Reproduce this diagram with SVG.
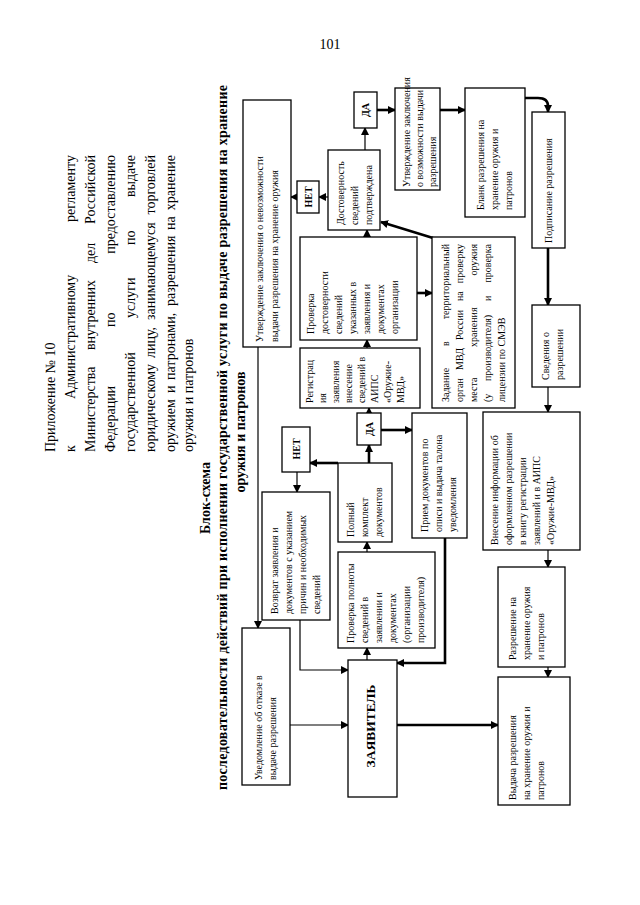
<svg xmlns="http://www.w3.org/2000/svg" width="640" height="905" viewBox="0 0 640 905">
<defs>
<style>
.bg{fill:#fff}
.box{fill:#fff;stroke:#000;stroke-width:1.3}
.t{font-family:"Liberation Serif","Times New Roman",serif;font-size:10px;fill:#000}
.b{font-family:"Liberation Serif","Times New Roman",serif;font-weight:bold;fill:#000}
.h{font-family:"Liberation Serif","Times New Roman",serif;font-size:14px;fill:#000}
.e{text-anchor:end}
.ln{fill:none;stroke:#000;stroke-width:1.2}
.tk{fill:none;stroke:#000;stroke-width:2.6}
</style>
<marker id="a" markerWidth="8" markerHeight="8" refX="7" refY="4" orient="auto" markerUnits="userSpaceOnUse"><path d="M0,0 L8,4 L0,8 z" fill="#000"/></marker>
</defs>
<rect class="bg" x="0" y="0" width="640" height="905"/>
<text class="h" x="330" y="49" text-anchor="middle" font-size="12">101</text>

<g id="header">
<text class="h" transform="translate(55,452) rotate(-90)">Приложение № 10</text>
<text class="h" transform="translate(75,452) rotate(-90)">к</text>
<text class="h" transform="translate(75,399) rotate(-90)">Административному</text>
<text class="h e" transform="translate(75,155) rotate(-90)">регламенту</text>
<text class="h" transform="translate(95,452) rotate(-90)">Министерства</text>
<text class="h" transform="translate(95,350) rotate(-90)">внутренних</text>
<text class="h" transform="translate(95,263) rotate(-90)">дел</text>
<text class="h e" transform="translate(95,155) rotate(-90)">Российской</text>
<text class="h" transform="translate(115,452) rotate(-90)">Федерации</text>
<text class="h" transform="translate(115,327) rotate(-90)">по</text>
<text class="h e" transform="translate(115,155) rotate(-90)">предоставлению</text>
<text class="h" transform="translate(135,452) rotate(-90)">государственной</text>
<text class="h" transform="translate(135,318) rotate(-90)">услуги</text>
<text class="h" transform="translate(135,245) rotate(-90)">по</text>
<text class="h e" transform="translate(135,155) rotate(-90)">выдаче</text>
<text class="h" transform="translate(155,452) rotate(-90)">юридическому</text>
<text class="h" transform="translate(155,358) rotate(-90)">лицу,</text>
<text class="h" transform="translate(155,320) rotate(-90)">занимающемуся</text>
<text class="h e" transform="translate(155,155) rotate(-90)">торговлей</text>
<text class="h" transform="translate(175,452) rotate(-90)">оружием</text>
<text class="h" transform="translate(175,393) rotate(-90)">и</text>
<text class="h" transform="translate(175,380) rotate(-90)">патронами,</text>
<text class="h" transform="translate(175,306) rotate(-90)">разрешения</text>
<text class="h" transform="translate(175,230) rotate(-90)">на</text>
<text class="h e" transform="translate(175,155) rotate(-90)">хранение</text>
<text class="h" transform="translate(193,452) rotate(-90)">оружия и патронов</text>
</g>

<g id="title">
<text class="b" font-size="14" text-anchor="middle" transform="translate(210,498) rotate(-90)">Блок-схема</text>
<text class="b" font-size="14" transform="translate(227,790) rotate(-90)" textLength="705" lengthAdjust="spacing">последовательности действий при исполнении государственной услуги по выдаче разрешения на хранение</text>
<text class="b" font-size="14" text-anchor="middle" transform="translate(245,432) rotate(-90)">оружия и патронов</text>
</g>

<g id="connectors">
<path class="ln" d="M258,347 V628" marker-end="url(#a)"/>
<path class="ln" d="M328,197 H319" marker-end="url(#a)"/>
<path class="ln" d="M297,197 H291" marker-end="url(#a)"/>
<path class="ln" d="M365,150 V128" marker-end="url(#a)"/>
<path class="tk" d="M377,110 H395" marker-end="url(#a)"/>
<path class="tk" d="M440,110 H465" marker-end="url(#a)"/>
<path class="tk" d="M525,98 H538 Q548,98 548,106 V112" marker-end="url(#a)"/>
<path class="tk" d="M548,248 V305" marker-end="url(#a)"/>
<path class="ln" d="M548,387 V412" marker-end="url(#a)"/>
<path class="ln" d="M548,550 V567" marker-end="url(#a)"/>
<path class="ln" d="M548,667 V677" marker-end="url(#a)"/>
<path class="tk" d="M397,725 H498" marker-end="url(#a)"/>
<path class="ln" d="M290,725 H348" marker-end="url(#a)"/>
<path class="ln" d="M300,620 V670 H348" marker-end="url(#a)"/>
<path class="ln" d="M297,472 V492" marker-end="url(#a)"/>
<path class="tk" d="M338,463 H310" marker-end="url(#a)"/>
<path class="tk" d="M369,463 V445" marker-end="url(#a)"/>
<path class="tk" d="M381,430 H412" marker-end="url(#a)"/>
<path class="ln" d="M369,413 V408" marker-end="url(#a)"/>
<path class="ln" d="M367,348 V340" marker-end="url(#a)"/>
<path class="ln" d="M367,237 V230" marker-end="url(#a)"/>
<path class="tk" d="M417,293 H432" marker-end="url(#a)"/>
<path class="tk" d="M433,238 L381,222" marker-end="url(#a)"/>
<path class="tk" d="M445,538 V663 H397" marker-end="url(#a)"/>
<path class="ln" d="M367,660 V648" marker-end="url(#a)"/>
<path class="ln" d="M367,552 V542" marker-end="url(#a)"/>
</g>

<g id="n_b1">
<rect class="box" x="243" y="100" width="48" height="247"/>
<text class="t" font-size="12.5" transform="translate(263,342) rotate(-90)">Утверждение заключения о невозможности</text>
<text class="t" font-size="12.5" transform="translate(278,342) rotate(-90)">выдачи разрешения на хранение оружия</text>
</g>
<g id="n_net1">
<rect class="box" x="297" y="181" width="22" height="32"/>
<text class="b" font-size="10" text-anchor="middle" transform="translate(312,197) rotate(-90)">НЕТ</text>
</g>
<g id="n_dost">
<rect class="box" x="328" y="150" width="52" height="80"/>
<text class="t" transform="translate(344,225) rotate(-90)">Достоверность</text>
<text class="t" transform="translate(358,225) rotate(-90)">сведений</text>
<text class="t" transform="translate(372,225) rotate(-90)">подтверждена</text>
</g>
<g id="n_da1">
<rect class="box" x="354" y="92" width="23" height="36"/>
<text class="b" font-size="10" text-anchor="middle" transform="translate(369,110) rotate(-90)">ДА</text>
</g>
<g id="n_vozm">
<rect class="box" x="395" y="88" width="45" height="102"/>
<text class="t" font-size="8.7" transform="translate(410,187) rotate(-90)">Утверждение заключения</text>
<text class="t" font-size="8.7" transform="translate(423,187) rotate(-90)">о возможности выдачи</text>
<text class="t" font-size="8.7" transform="translate(436,187) rotate(-90)">разрешения</text>
</g>
<g id="n_blank">
<rect class="box" x="465" y="88" width="60" height="129"/>
<text class="t" transform="translate(484,210) rotate(-90)">Бланк разрешения на</text>
<text class="t" transform="translate(498,210) rotate(-90)">хранение оружия и</text>
<text class="t" transform="translate(512,210) rotate(-90)">патронов</text>
</g>
<g id="n_podp">
<rect class="box" x="532" y="112" width="33" height="136"/>
<text class="t" font-size="10.8" transform="translate(552,243) rotate(-90)">Подписание разрешения</text>
</g>
<g id="n_sved">
<rect class="box" x="532" y="305" width="48" height="82"/>
<text class="t" transform="translate(549,380) rotate(-90)">Сведения о</text>
<text class="t" transform="translate(563,380) rotate(-90)">разрешении</text>
</g>
<g id="n_vnes">
<rect class="box" x="483" y="412" width="97" height="138"/>
<text class="t" transform="translate(498,545) rotate(-90)">Внесение информации об</text>
<text class="t" transform="translate(512,545) rotate(-90)">оформленном разрешении</text>
<text class="t" transform="translate(526,545) rotate(-90)">в книгу регистрации</text>
<text class="t" transform="translate(540,545) rotate(-90)">заявлений и в АИПС</text>
<text class="t" transform="translate(554,545) rotate(-90)">«Оружие-МВД»</text>
</g>
<g id="n_razr">
<rect class="box" x="498" y="567" width="67" height="100"/>
<text class="t" transform="translate(516,660) rotate(-90)">Разрешение на</text>
<text class="t" transform="translate(530,660) rotate(-90)">хранение оружия</text>
<text class="t" transform="translate(544,660) rotate(-90)">и патронов</text>
</g>
<g id="n_vyd">
<rect class="box" x="498" y="677" width="72" height="128"/>
<text class="t" transform="translate(516,800) rotate(-90)">Выдача разрешения</text>
<text class="t" transform="translate(530,800) rotate(-90)">на хранение оружия и</text>
<text class="t" transform="translate(544,800) rotate(-90)">патронов</text>
</g>
<g id="n_zayav">
<rect class="box" x="348" y="660" width="49" height="137"/>
<text class="b" font-size="13.5" text-anchor="middle" transform="translate(375,726) rotate(-90)">ЗАЯВИТЕЛЬ</text>
</g>
<g id="n_uved">
<rect class="box" x="242" y="628" width="48" height="157"/>
<text class="t" transform="translate(262,780) rotate(-90)">Уведомление об отказе в</text>
<text class="t" transform="translate(276,780) rotate(-90)">выдаче разрешения</text>
</g>
<g id="n_vozvr">
<rect class="box" x="262" y="492" width="68" height="128"/>
<text class="t" transform="translate(278,614) rotate(-90)">Возврат заявления и</text>
<text class="t" transform="translate(292,614) rotate(-90)">документов с указанием</text>
<text class="t" transform="translate(306,614) rotate(-90)">причин и необходимых</text>
<text class="t" transform="translate(320,614) rotate(-90)">сведений</text>
</g>
<g id="n_net2">
<rect class="box" x="282" y="427" width="28" height="45"/>
<text class="b" font-size="10" text-anchor="middle" transform="translate(300,449) rotate(-90)">НЕТ</text>
</g>
<g id="n_poln">
<rect class="box" x="338" y="463" width="54" height="79"/>
<text class="t" transform="translate(354,537) rotate(-90)">Полный</text>
<text class="t" transform="translate(368,537) rotate(-90)">комплект</text>
<text class="t" transform="translate(382,537) rotate(-90)">документов</text>
</g>
<g id="n_da2">
<rect class="box" x="357" y="413" width="24" height="32"/>
<text class="b" font-size="10" text-anchor="middle" transform="translate(373,429) rotate(-90)">ДА</text>
</g>
<g id="n_priem">
<rect class="box" x="412" y="413" width="55" height="125"/>
<text class="t" transform="translate(428,532) rotate(-90)">Прием документов по</text>
<text class="t" transform="translate(442,532) rotate(-90)">описи и выдача талона</text>
<text class="t" transform="translate(456,532) rotate(-90)">уведомления</text>
</g>
<g id="n_provpoln">
<rect class="box" x="338" y="552" width="97" height="96"/>
<text class="t" transform="translate(354,643) rotate(-90)">Проверка полноты</text>
<text class="t" transform="translate(368,643) rotate(-90)">сведений в</text>
<text class="t" transform="translate(382,643) rotate(-90)">заявлении и</text>
<text class="t" transform="translate(396,643) rotate(-90)">документах</text>
<text class="t" transform="translate(410,643) rotate(-90)">(организации</text>
<text class="t" transform="translate(424,643) rotate(-90)">производителя)</text>
</g>
<g id="n_reg">
<rect class="box" x="300" y="348" width="120" height="60"/>
<text class="t" transform="translate(313,403) rotate(-90)">Регистрац</text>
<text class="t" transform="translate(326,403) rotate(-90)">ия</text>
<text class="t" transform="translate(339,403) rotate(-90)">заявления</text>
<text class="t" transform="translate(352,403) rotate(-90)">внесение</text>
<text class="t" transform="translate(365,403) rotate(-90)">сведений в</text>
<text class="t" transform="translate(378,403) rotate(-90)">АИПС</text>
<text class="t" transform="translate(391,403) rotate(-90)">«Оружие-</text>
<text class="t" transform="translate(404,403) rotate(-90)">МВД»</text>
</g>
<g id="n_provdost">
<rect class="box" x="300" y="237" width="117" height="103"/>
<text class="t" transform="translate(314,334) rotate(-90)">Проверка</text>
<text class="t" transform="translate(328,334) rotate(-90)">достоверности</text>
<text class="t" transform="translate(342,334) rotate(-90)">сведений</text>
<text class="t" transform="translate(356,334) rotate(-90)">указанных в</text>
<text class="t" transform="translate(370,334) rotate(-90)">заявления и</text>
<text class="t" transform="translate(384,334) rotate(-90)">документах</text>
<text class="t" transform="translate(398,334) rotate(-90)">организации</text>
</g>
<g id="n_zad">
<rect class="box" x="432" y="237" width="83" height="171"/>
<text class="t" transform="translate(449,402) rotate(-90)">Задание</text>
<text class="t" transform="translate(449,346) rotate(-90)">в</text>
<text class="t e" transform="translate(449,244) rotate(-90)">территориальный</text>
<text class="t" transform="translate(463,402) rotate(-90)">орган</text>
<text class="t" transform="translate(463,370) rotate(-90)">МВД</text>
<text class="t" transform="translate(463,340) rotate(-90)">России</text>
<text class="t" transform="translate(463,301) rotate(-90)">на</text>
<text class="t e" transform="translate(463,244) rotate(-90)">проверку</text>
<text class="t" transform="translate(477,402) rotate(-90)">места</text>
<text class="t" transform="translate(477,347) rotate(-90)">хранения</text>
<text class="t e" transform="translate(477,244) rotate(-90)">оружия</text>
<text class="t" transform="translate(491,402) rotate(-90)">(у</text>
<text class="t" transform="translate(491,381) rotate(-90)">производителя)</text>
<text class="t" transform="translate(491,301) rotate(-90)">и</text>
<text class="t e" transform="translate(491,244) rotate(-90)">проверка</text>
<text class="t" transform="translate(505,402) rotate(-90)">лицензии по СМЭВ</text>
</g>
</svg>
